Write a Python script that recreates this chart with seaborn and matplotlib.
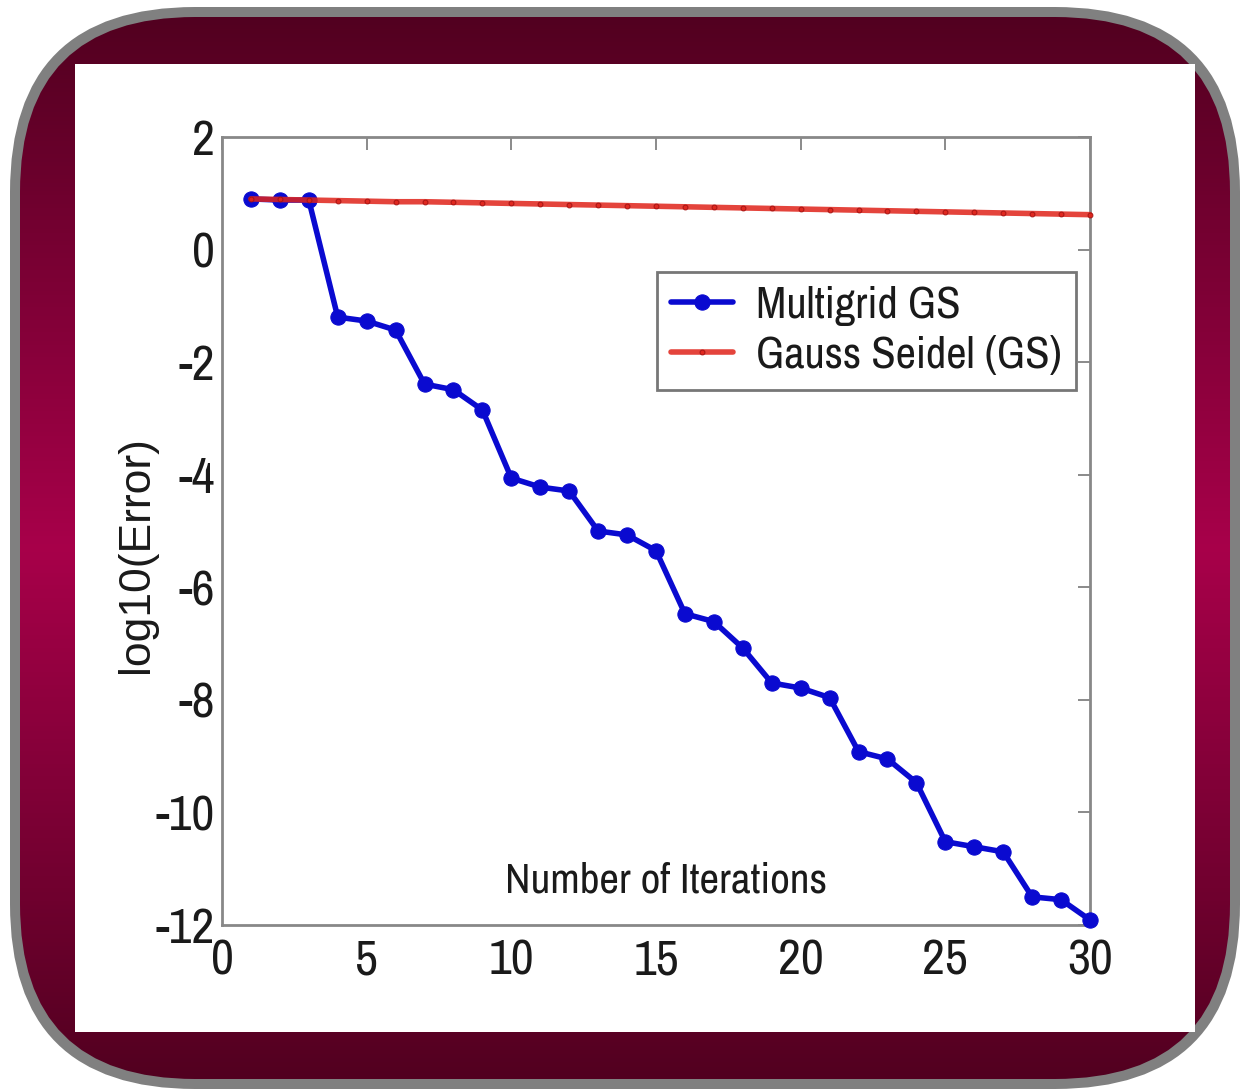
import numpy as np
import pandas as pd
import seaborn as sns
import matplotlib
matplotlib.use("Agg")
import matplotlib.pyplot as plt
from matplotlib import font_manager as fm
from matplotlib.patches import FancyBboxPatch, Rectangle

# ---- data ----
iterations = list(range(1, 31))
multigrid_gs = [0.90, 0.88, 0.88, -1.20, -1.27, -1.43, -2.39, -2.49, -2.85, -4.06,
                -4.22, -4.29, -5.00, -5.07, -5.35, -6.47, -6.61, -7.08, -7.70, -7.79,
                -7.96, -8.92, -9.05, -9.47, -10.52, -10.61, -10.70, -11.50, -11.55, -11.91]
gauss_seidel = [0.90, 0.89, 0.88, 0.87, 0.86, 0.85, 0.85, 0.84, 0.83, 0.82,
                0.81, 0.80, 0.79, 0.78, 0.77, 0.76, 0.75, 0.74, 0.73, 0.72,
                0.71, 0.70, 0.69, 0.68, 0.67, 0.66, 0.65, 0.64, 0.63, 0.62]
series_names = ["Multigrid GS", "Gauss Seidel (GS)"]
x_ticks = [0, 5, 10, 15, 20, 25, 30]
y_ticks = [2, 0, -2, -4, -6, -8, -10, -12]

sns.set_theme(style="white")

# look for a condensed / narrow sans face
cond_name = None
for f in fm.fontManager.ttflist:
    n = f.name
    if ("Narrow" in n or "Condensed" in n) and "Mono" not in n and "Serif" not in n:
        cond_name = n
        break
if cond_name is None:
    for f in fm.fontManager.ttflist:
        if f.stretch in ("condensed", "semi-condensed", 600, 700) and "Sans" in f.name:
            cond_name = f.name
            break

if cond_name:
    main_family = [cond_name, "Liberation Sans", "DejaVu Sans"]
    tick_fs, lab_fs, leg_fs = 36, 31, 32
else:
    main_family = ["Liberation Sans", "DejaVu Sans"]
    tick_fs, lab_fs, leg_fs = 28, 27, 26
plt.rcParams["font.family"] = main_family

W, H = 1243, 1092
fig = plt.figure(figsize=(W / 100, H / 100), dpi=100)
fig.patch.set_facecolor("white")

# ---- decorative frame ----
bg = fig.add_axes([0, 0, 1, 1])
bg.set_xlim(0, W)
bg.set_ylim(H, 0)
bg.axis("off")
outer = FancyBboxPatch((10, 7), 1230, 1082, boxstyle="round,pad=0,rounding_size=185",
                       facecolor="#808080", edgecolor="none")
bg.add_patch(outer)
grad = np.linspace(0, 1, 256)
prof = 1 - np.abs(grad - 0.5) * 2
top = np.array([0x52, 0x00, 0x20]) / 255
mid = np.array([0xa8, 0x00, 0x4a]) / 255
img = top[None, :] + (mid - top)[None, :] * prof[:, None]
img = np.repeat(img[:, None, :], 2, axis=1)
im = bg.imshow(img, extent=[20, 1230, 1079, 17], aspect="auto", zorder=2)
inner = FancyBboxPatch((20, 17), 1210, 1062, boxstyle="round,pad=0,rounding_size=175",
                       facecolor="none", edgecolor="none", transform=bg.transData)
bg.add_patch(inner)
im.set_clip_path(inner)
bg.add_patch(Rectangle((75, 64), 1120, 968, facecolor="white", edgecolor="none", zorder=3))

# ---- main chart ----
l, r, t, b = 222, 1090, 137, 925
ax = fig.add_axes([l / W, (H - b) / H, (r - l) / W, (b - t) / H])
ax.set_facecolor("white")

df_mg = pd.DataFrame({"iter": iterations, "err": multigrid_gs})
df_gs = pd.DataFrame({"iter": iterations, "err": gauss_seidel})
sns.lineplot(data=df_mg, x="iter", y="err", ax=ax, color="#0a0ad0", linewidth=4,
             marker="o", markersize=11, markeredgecolor="#0a0ad0", label=series_names[0],
             zorder=3, clip_on=False)
sns.lineplot(data=df_gs, x="iter", y="err", ax=ax, color="#e0231a", linewidth=4,
             marker=".", markersize=7, markeredgecolor="#a01010", label=series_names[1],
             zorder=4, alpha=0.85, clip_on=False)

ax.set_xlim(0, 30)
ax.set_ylim(-12, 2)
ax.set_xticks(x_ticks)
ax.set_yticks(y_ticks)
ax.set_xticklabels([str(v) for v in x_ticks])
ax.set_yticklabels([str(v) for v in y_ticks])
ax.tick_params(direction="in", length=9, width=1.2, color="#777777",
               top=True, right=True, labelsize=tick_fs, labelcolor="#1a1a1a", pad=5)
ax.tick_params(axis="x", pad=10)
for s in ax.spines.values():
    s.set_color("#888888")
    s.set_linewidth(2)
ax.set_xlabel("")
ax.set_ylabel("")

ax.text(0.512, 0.057, "Number of Iterations", transform=ax.transAxes, ha="center",
        va="center", fontsize=lab_fs, color="#1a1a1a")
fig.text(137 / W, 1 - 555 / H, "log10(Error)", rotation=90, ha="center", va="center",
         fontsize=32, color="#1a1a1a", family=["Liberation Sans", "DejaVu Sans"])

leg = ax.legend(loc="upper left", bbox_to_anchor=(0.501, 0.829), fontsize=leg_fs,
                frameon=True, fancybox=False, edgecolor="#777777", framealpha=1,
                handlelength=1.4, handletextpad=0.5, borderpad=0.32, labelspacing=0.22,
                borderaxespad=0)
leg.get_frame().set_linewidth(2)
for txt in leg.get_texts():
    txt.set_color("#1a1a1a")

fig.savefig("out.png", dpi=100, facecolor="white")
